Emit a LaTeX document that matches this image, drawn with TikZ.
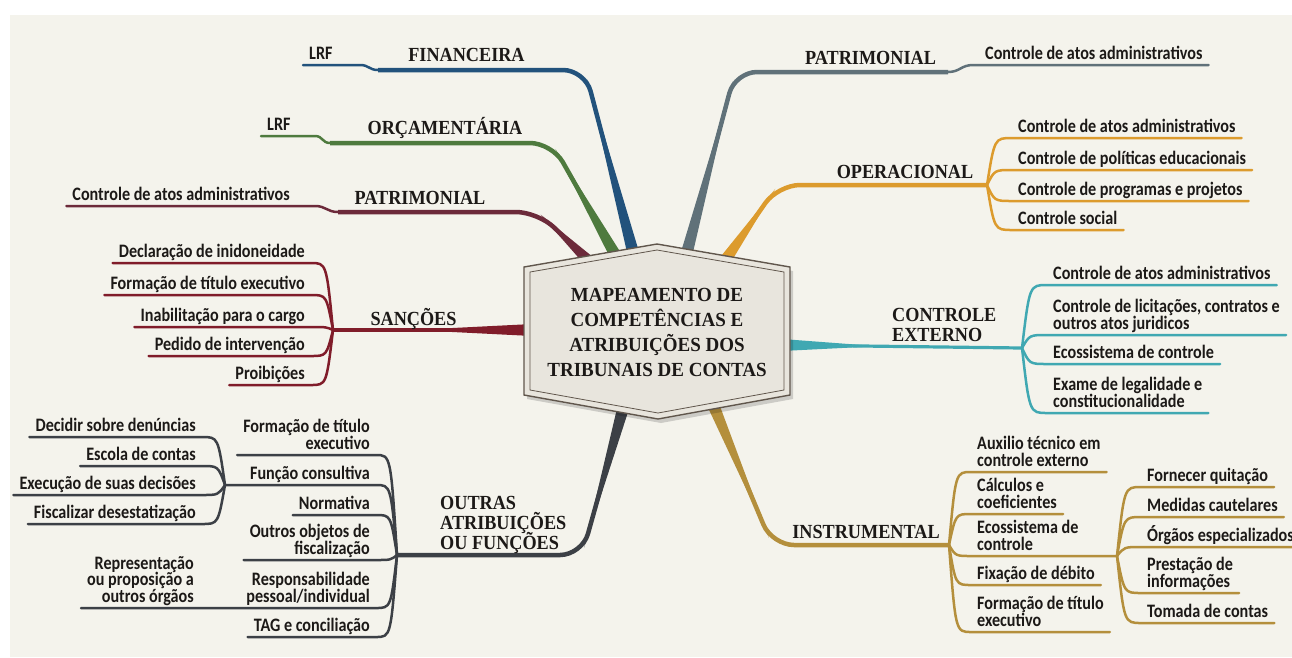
\documentclass[tikz,border=0pt]{standalone}
\usepackage{fontspec}
\usetikzlibrary{calc,positioning}
\newfontfamily\leaffont{Carlito}[FakeStretch=0.85]
\newfontfamily\headfont{Liberation Serif}[FakeStretch=0.91]
\newfontfamily\titlefont{Liberation Serif}[FakeStretch=0.95]
\newcommand{\leafsize}{\fontsize{19}{16.5}\selectfont\lineskiplimit-100pt\relax}
\newcommand{\headsize}{\fontsize{20}{20}\selectfont\lineskiplimit-100pt\relax}
\newcommand{\titlesize}{\fontsize{20}{25}\selectfont\lineskiplimit-100pt\relax}
\definecolor{fundo}{RGB}{244,243,236}
\definecolor{tinta}{RGB}{28,25,23}
\definecolor{financ}{RGB}{34,82,124}
\definecolor{orcam}{RGB}{78,122,62}
\definecolor{patrimE}{RGB}{108,42,58}
\definecolor{sancao}{RGB}{128,28,42}
\definecolor{outras}{RGB}{60,64,70}
\definecolor{patrimD}{RGB}{96,113,121}
\definecolor{operac}{RGB}{220,155,45}
\definecolor{contex}{RGB}{64,168,178}
\definecolor{instrum}{RGB}{180,143,60}
\definecolor{hexfundo}{RGB}{232,229,221}
\definecolor{hexborda}{RGB}{96,86,76}

\begin{document}
\begin{tikzpicture}[x=1pt,y=-1pt,
	trunk/.style={line width=4.5pt,rounded corners=22pt},
	twig/.style={line width=2.5pt,line cap=round},
	head/.style={font=\headfont\bfseries\headsize,text=tinta,inner sep=0pt},
	leaf/.style={font=\leaffont\bfseries\leafsize,text=tinta,
		inner xsep=6pt,inner ysep=0.5pt,execute at end node=\strut},
	leafR/.style={leaf,anchor=south west,align=left},
	leafL/.style={leaf,anchor=south east,align=right}]
	\useasboundingbox (0,0) rectangle (1292,657);
	\fill[white] (0,0) rectangle (1292,657);
	\fill[fundo] (10,15) rectangle (1292,657);
	
	% pontos dos ramos
	\coordinate (hF) at (634,256); \coordinate (kF) at (585,70); \coordinate (eF) at (378,70);
	\coordinate (hO) at (617,258); \coordinate (kO) at (552,143); \coordinate (eO) at (330,143);
	\coordinate (hPe) at (592,264); \coordinate (kPe) at (538,212); \coordinate (ePe) at (338,212);
	\coordinate (hS) at (532,330); \coordinate (fS) at (333,330);
	\coordinate (hOu) at (624,405); \coordinate (kOu) at (582,555); \coordinate (fOu) at (397,555);
	\coordinate (fOu2) at (225,485);
	\coordinate (hPd) at (686,256); \coordinate (kPd) at (735,72); \coordinate (ePd) at (948,72);
	\coordinate (hOp) at (724,262); \coordinate (kOp) at (778,185); \coordinate (fOp) at (987,185);
	\coordinate (hC) at (782,345); \coordinate (fC) at (1022,348);
	\coordinate (hI) at (712,402); \coordinate (kI) at (772,545); \coordinate (fI) at (949,545);
	\coordinate (fI2) at (1117,556);
	
	% folhas
	\node[leafR] (lrfA) at (303,65) {LRF};
	\node[leafR] (lrfB) at (261,136) {LRF};
	\node[leafL] (pL1) at (296,206) {Controle de atos administrativos};
	
	\node[leafL] (sa1) at (311,263) {Declaração de inidoneidade};
	\node[leafL] (sa2) at (311,295) {Formação de título executivo};
	\node[leafL] (sa3) at (311,327) {Inabilitação para o cargo};
	\node[leafL] (sa4) at (311,356) {Pedido de intervenção};
	\node[leafL] (sa5) at (311,385) {Proibições};
	
	\node[leafL] (ou1) at (376,455) {Formação de título\\executivo};
	\node[leafL] (ou2) at (376,485) {Função consultiva};
	\node[leafL] (ou3) at (376,515) {Normativa};
	\node[leafL] (ou4) at (376,560) {Outros objetos de\\fiscalização};
	\node[leafL] (ou5) at (376,608) {Responsabilidade\\pessoal/individual};
	\node[leafL] (ou6) at (376,637) {TAG e conciliação};
	\node[leafL] (ow1) at (202,437) {Decidir sobre denúncias};
	\node[leafL] (ow2) at (202,466) {Escola de contas};
	\node[leafL] (ow3) at (202,495) {Execução de suas decisões};
	\node[leafL] (ow4) at (202,524) {Fiscalizar desestatização};
	\node[leafL] (ow5) at (200,608) {Representação\\ou proposição a\\outros órgãos};
	
	\node[leafR] (pR1) at (979,65) {Controle de atos administrativos};
	
	\node[leafR] (op1) at (1012,138) {Controle de atos administrativos};
	\node[leafR] (op2) at (1012,170) {Controle de políticas educacionais};
	\node[leafR] (op3) at (1012,201) {Controle de programas e projetos};
	\node[leafR] (op4) at (1012,230) {Controle social};
	
	\node[leafR] (ce1) at (1047,285) {Controle de atos administrativos};
	\node[leafR] (ce2) at (1047,335) {Controle de licitações, contratos e\\outros atos juridicos};
	\node[leafR] (ce3) at (1047,364) {Ecossistema de controle};
	\node[leafR] (ce4) at (1047,413) {Exame de legalidade e\\constitucionalidade};
	
	\node[leafR] (in1) at (971,472) {Auxilio técnico em\\controle externo};
	\node[leafR] (in2) at (971,514) {Cálculos e\\coeficientes};
	\node[leafR] (in3) at (971,556) {Ecossistema de\\controle};
	\node[leafR] (in4) at (971,585) {Fixação de débito};
	\node[leafR] (in5) at (971,632) {Formação de título\\executivo};
	\node[leafR] (is1) at (1141,487) {Fornecer quitação};
	\node[leafR] (is2) at (1141,517) {Medidas cautelares};
	\node[leafR] (is3) at (1141,547) {Órgãos especializados};
	\node[leafR] (is4) at (1141,593) {Prestação de\\informações};
	\node[leafR] (is5) at (1141,623) {Tomada de contas};
	
	% troncos
	\draw[trunk,financ] (hF) -- (kF) -- (eF);
	\draw[trunk,orcam] (hO) -- (kO) -- (eO);
	\draw[trunk,patrimE] (hPe) -- (kPe) -- (ePe);
	\draw[trunk,outras] (hOu) -- (kOu) -- (fOu);
	\draw[trunk,patrimD] (hPd) -- (kPd) -- (ePd);
	\draw[trunk,operac] (hOp) -- (kOp) -- (fOp);
	\draw[trunk,instrum] (hI) -- (kI) -- (fI);
	\draw[sancao,line width=3.2pt] (hS) -- (fS);
	\draw[contex,line width=3.2pt] (hC) -- (fC);
	\foreach \c/\h/\k/\t in {financ/hF/kF/.95,orcam/hO/kO/.95,patrimE/hPe/kPe/.95,
		sancao/hS/fS/.6,outras/hOu/kOu/.95,patrimD/hPd/kPd/.95,operac/hOp/kOp/.95,
		contex/hC/fC/.4,instrum/hI/kI/.95}
	\fill[\c] ($(\h)!6pt!90:(\k)$) -- ($(\h)!6pt!-90:(\k)$) -- ($(\h)!\t!(\k)$) -- cycle;
	
	% ramos finos
	\draw[twig,financ] (eF) .. controls +(-9,0) and +(9,0) .. ++(-18,-5) -- (lrfA.south west);
	\draw[twig,orcam] (eO) .. controls +(-8,0) and +(8,0) .. ++(-15,-7) -- (lrfB.south west);
	\draw[twig,patrimE] (ePe) .. controls +(-11,0) and +(11,0) .. ++(-23,-6) -- (pL1.south west);
	\draw[twig,patrimD] (ePd) .. controls +(12,0) and +(-12,0) .. ++(25,-7) -- (pR1.south east);
	
	\foreach \n in {sa1,sa2,sa3,sa4,sa5}
	\draw[twig,sancao] (fS) .. controls ($(fS |- \n.south east)!.3!(\n.south east)$) .. (\n.south east) -- (\n.south west);
	
	\foreach \n in {ou1,ou3,ou4,ou6}
	\draw[twig,outras] (fOu) .. controls ($(fOu |- \n.south east)!.3!(\n.south east)$) .. (\n.south east) -- (\n.south west);
	\draw[twig,outras] (fOu) .. controls ($(fOu |- ou2.south east)!.3!(ou2.south east)$) .. (ou2.south east) -- (fOu2);
	\draw[twig,outras] (fOu) .. controls ($(fOu |- ou5.south east)!.3!(ou5.south east)$) .. (ou5.south east) -- (ow5.south west);
	\foreach \n in {ow1,ow2,ow3,ow4}
	\draw[twig,outras] (fOu2) .. controls ($(fOu2 |- \n.south east)!.3!(\n.south east)$) .. (\n.south east) -- (\n.south west);
	
	\foreach \n in {op1,op2,op3,op4}
	\draw[twig,operac] (fOp) .. controls ($(fOp |- \n.south west)!.3!(\n.south west)$) .. (\n.south west) -- (\n.south east);
	
	\foreach \n in {ce1,ce2,ce3,ce4}
	\draw[twig,contex] (fC) .. controls ($(fC |- \n.south west)!.3!(\n.south west)$) .. (\n.south west) -- (\n.south east);
	
	\foreach \n in {in1,in2,in4,in5}
	\draw[twig,instrum] (fI) .. controls ($(fI |- \n.south west)!.3!(\n.south west)$) .. (\n.south west) -- (\n.south east);
	\draw[twig,instrum] (fI) .. controls ($(fI |- in3.south west)!.3!(in3.south west)$) .. (in3.south west) -- (fI2);
	\foreach \n in {is1,is2,is3,is4,is5}
	\draw[twig,instrum] (fI2) .. controls ($(fI2 |- \n.south west)!.3!(\n.south west)$) .. (\n.south west) -- (\n.south east);
	
	% titulos dos ramos
	\node[head,anchor=base] (fin) at (466.5,61) {FINANCEIRA};
	\node[head,anchor=base] (orc) at (445,134) {ORÇAMENTÁRIA};
	\node[head,anchor=base] (patE) at (420,204) {PATRIMONIAL};
	\node[head,anchor=base] (san) at (413.5,325) {SANÇÕES};
	\node[head,anchor=north west,align=left] (outr) at (440,496) {OUTRAS\\ATRIBUIÇÕES\\OU FUNÇÕES};
	\node[head,anchor=base] (patD) at (870.5,64) {PATRIMONIAL};
	\node[head,anchor=base] (oper) at (905,178) {OPERACIONAL};
	\node[head,anchor=north west,align=left] (cext) at (892,308) {CONTROLE\\EXTERNO};
	\node[head,anchor=base] (instr) at (866,538) {INSTRUMENTAL};
	
	% hexagono central
	\fill[black,opacity=.16] (660,248) -- (793,271) -- (793,399) -- (661,423) -- (527,399) -- (527,271) -- cycle;
	\draw[hexborda,line width=1.4pt,fill=hexfundo] (657,244) -- (790,267) -- (790,395) -- (658,419) -- (524,395) -- (524,267) -- cycle;
	\draw[hexborda,line width=0.8pt] (657,250) -- (784,272) -- (784,390) -- (658,413) -- (530,390) -- (530,272) -- cycle;
	\node[font=\titlefont\bfseries\titlesize,text=tinta,align=center] (centro) at (657,332)
	{MAPEAMENTO DE\\COMPETÊNCIAS E\\ATRIBUIÇÕES DOS\\TRIBUNAIS DE CONTAS};
\end{tikzpicture}
\end{document}
